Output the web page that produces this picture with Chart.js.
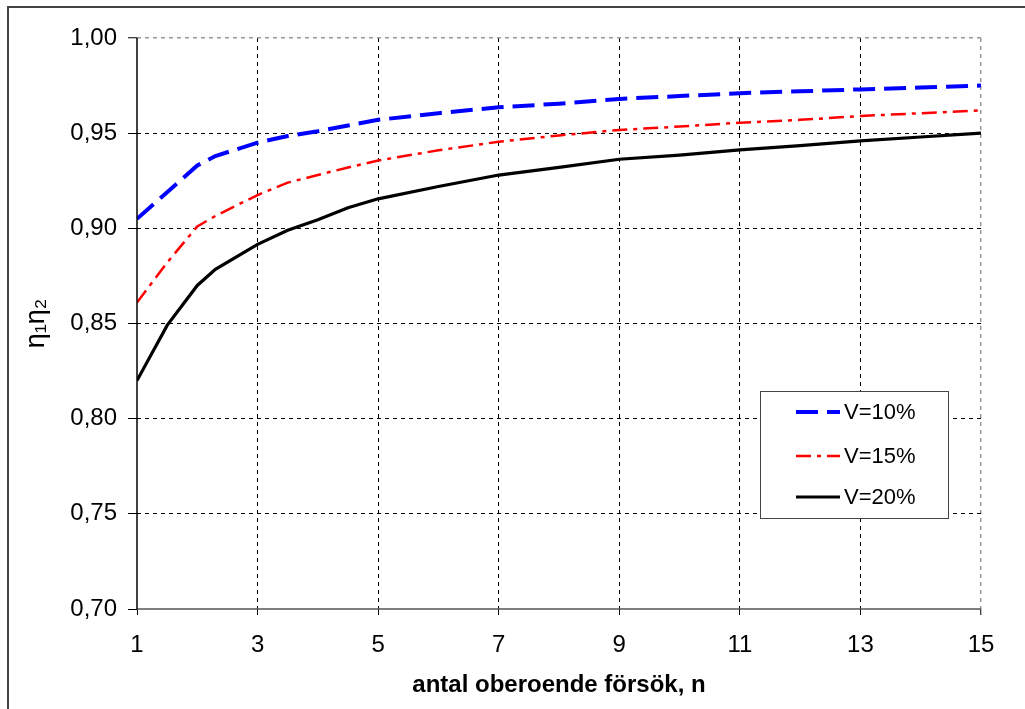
<!DOCTYPE html>
<html>
<head>
<meta charset="utf-8">
<script src="https://cdn.jsdelivr.net/npm/chart.js@4/dist/chart.umd.min.js"></script>
<style>
  html, body { margin: 0; padding: 0; background: #fff; }
  #wrap { width: 1025px; height: 709px; position: relative; }
</style>
</head>
<body>
<div id="wrap"><canvas id="c" width="1025" height="709"></canvas></div>
<script>
// ---- data ----
const nValues = [1, 1.5, 2, 2.3, 3, 3.5, 4, 4.5, 5, 6, 7, 8, 9, 10, 11, 12, 13, 14, 15];
const seriesLabels = ['V=10%', 'V=15%', 'V=20%'];
const v10 = [0.905, 0.919, 0.933, 0.938, 0.945, 0.9485, 0.951, 0.954, 0.957, 0.9605, 0.9636, 0.9655, 0.968, 0.9695, 0.971, 0.972, 0.973, 0.974, 0.975];
const v15 = [0.861, 0.882, 0.901, 0.9065, 0.9175, 0.924, 0.928, 0.932, 0.9356, 0.941, 0.9455, 0.9488, 0.9517, 0.9535, 0.9555, 0.957, 0.959, 0.9605, 0.962];
const v20 = [0.820, 0.849, 0.870, 0.8785, 0.8916, 0.899, 0.9045, 0.9108, 0.9155, 0.922, 0.928, 0.932, 0.9363, 0.9385, 0.9412, 0.9435, 0.9459, 0.948, 0.950];
const xTicks = [1, 3, 5, 7, 9, 11, 13, 15];
const yTicks = [0.70, 0.75, 0.80, 0.85, 0.90, 0.95, 1.00];
const xTitle = 'antal oberoende försök, n';
const yTitle = 'η\u2081η\u2082';

const FONT = "'Liberation Sans', Arial, 'DejaVu Sans', sans-serif";

function pts(vals) { return nValues.map((n, i) => ({ x: n, y: vals[i] })); }

const styles = [
  { color: '#0000FF', width: 4, dash: [22, 9] },
  { color: '#FF0000', width: 2.5, dash: [15, 6, 4, 6] },
  { color: '#000000', width: 3.2, dash: [] }
];
const seriesVals = [v10, v15, v20];

const datasets = seriesVals.map((vals, i) => ({
  label: seriesLabels[i],
  data: pts(vals),
  borderColor: styles[i].color,
  backgroundColor: styles[i].color,
  borderWidth: styles[i].width,
  borderDash: styles[i].dash,
  pointRadius: 0,
  tension: 0,
  fill: false
}));

const near = (a, b) => Math.abs(a - b) < 1e-6;

const framePlugin = {
  id: 'frame',
  beforeDraw(chart) {
    const ctx = chart.ctx;
    ctx.save();
    ctx.fillStyle = '#fff';
    ctx.fillRect(0, 0, chart.width, chart.height);
    ctx.strokeStyle = '#444';
    ctx.lineWidth = 2;
    ctx.beginPath();
    ctx.moveTo(8, chart.height);
    ctx.lineTo(8, 7);
    ctx.lineTo(chart.width, 7);
    ctx.stroke();
    ctx.restore();
  },
  // solid axis lines drawn over the dashed grid
  afterDatasetsDraw(chart) {
    const ctx = chart.ctx, a = chart.chartArea;
    ctx.save();
    ctx.setLineDash([]);
    ctx.lineWidth = 1.5;
    ctx.strokeStyle = '#555';
    ctx.beginPath();
    ctx.moveTo(a.left, a.bottom);
    ctx.lineTo(a.right, a.bottom);
    ctx.stroke();
    ctx.strokeStyle = '#000';
    ctx.beginPath();
    ctx.moveTo(a.left, a.top);
    ctx.lineTo(a.left, a.bottom);
    ctx.stroke();
    ctx.restore();
  }
};

const legendPlugin = {
  id: 'boxLegend',
  afterDraw(chart) {
    const ctx = chart.ctx;
    ctx.save();
    const bx = 760.5, by = 391.5, bw = 188, bh = 127;
    ctx.fillStyle = '#fff';
    ctx.fillRect(bx, by, bw, bh);
    ctx.strokeStyle = '#444';
    ctx.lineWidth = 1;
    ctx.strokeRect(bx, by, bw, bh);
    const rows = [412, 456, 497];
    chart.data.datasets.forEach((ds, i) => {
      const y = rows[i];
      ctx.beginPath();
      ctx.strokeStyle = ds.borderColor;
      ctx.lineWidth = ds.borderWidth;
      ctx.setLineDash(ds.borderDash || []);
      ctx.moveTo(796, y);
      ctx.lineTo(840, y);
      ctx.stroke();
      ctx.setLineDash([]);
      ctx.fillStyle = '#000';
      ctx.font = '22px ' + FONT;
      ctx.textBaseline = 'middle';
      ctx.textAlign = 'left';
      ctx.fillText(ds.label, 844, y + 1);
    });
    ctx.restore();
  }
};

new Chart(document.getElementById('c'), {
  type: 'line',
  data: { datasets },
  plugins: [framePlugin, legendPlugin],
  options: {
    responsive: false,
    animation: false,
    devicePixelRatio: 1,
    layout: { padding: { left: 18, right: 44, top: 38, bottom: 0 } },
    plugins: { legend: { display: false }, tooltip: { enabled: false } },
    scales: {
      x: {
        type: 'linear',
        min: 1, max: 15,
        afterBuildTicks(axis) { axis.ticks = xTicks.map(v => ({ value: v })); },
        afterFit(axis) { axis.height = 100; },
        ticks: {
          color: '#000',
          font: { size: 24, family: FONT },
          padding: 16,
          maxRotation: 0,
          callback: v => String(v)
        },
        grid: {
          color: c => (c.tick && near(c.tick.value, 1)) ? 'rgba(0,0,0,0)' : (c.tick && near(c.tick.value, 15)) ? '#999' : '#000',
          lineWidth: c => (c.tick && near(c.tick.value, 15)) ? 1.5 : 1,
          tickLength: 6,
          tickColor: '#000',
          tickWidth: 1,
          tickBorderDash: [],
          drawTicks: true
        },
        border: { display: false, dash: [4, 4] },
        title: {
          display: true,
          text: xTitle,
          color: '#000',
          font: { size: 24, weight: 'bold', family: FONT },
          padding: { top: 0, bottom: 9 }
        }
      },
      y: {
        type: 'linear',
        min: 0.70, max: 1.00,
        afterBuildTicks(axis) { axis.ticks = yTicks.map(v => ({ value: v })); },
        afterFit(axis) { axis.width = 137 - 18; },
        ticks: {
          color: '#000',
          font: { size: 24, family: FONT },
          padding: 11,
          callback: v => Number(v).toFixed(2).replace('.', ',')
        },
        grid: {
          color: c => (c.tick && near(c.tick.value, 0.7)) ? 'rgba(0,0,0,0)' : (c.tick && near(c.tick.value, 1.0)) ? '#999' : '#000',
          lineWidth: c => (c.tick && near(c.tick.value, 1.0)) ? 1.5 : 1,
          tickLength: 9,
          tickColor: '#000',
          tickWidth: 1,
          tickBorderDash: [],
          drawTicks: true
        },
        border: { display: false, dash: [4, 4] },
        title: {
          display: true,
          text: yTitle,
          color: '#000',
          font: { size: 27, family: FONT },
          padding: { top: 2, bottom: 0 }
        }
      }
    }
  }
});
</script>
</body>
</html>
